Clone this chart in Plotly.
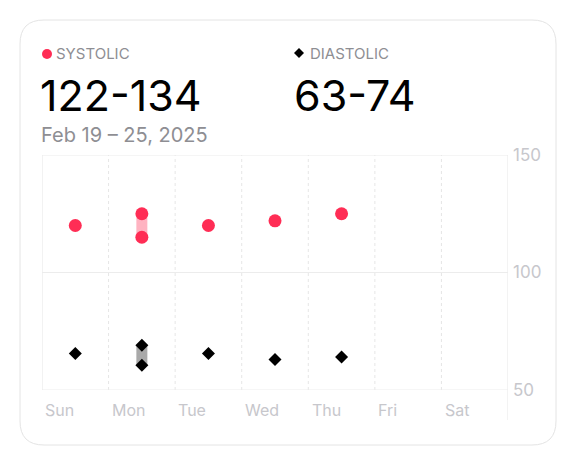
import plotly.graph_objects as go

days = ["Sun", "Mon", "Tue", "Wed", "Thu", "Fri", "Sat"]
sys_x = [0, 1, 1, 2, 3, 4]
sys_v = [120, 125, 115, 120, 122, 125]
dia_x = [0, 1, 1, 2, 3, 4]
dia_v = [65.5, 69, 60.5, 65.5, 63, 64]
sys_range = [115, 125]   # Mon
dia_range = [60.5, 69]   # Mon
yticks = [50, 100, 150]

OFF = 8
W, H = 576 - OFF, 466 - OFF
L, R, T, B = 42, 508, 155, 390
def px(x): return (x - L) / (R - L)
def py(y): return (B - y) / (B - T)

RED = "#ff2d55"
GRAY = "#8e8e93"
fig = go.Figure()

fig.add_trace(go.Scatter(x=[1.5, 1.5], y=sys_range, mode="lines",
                         line=dict(color="#ffb3c1", width=11), hoverinfo="skip"))
fig.add_trace(go.Scatter(x=[1.5, 1.5], y=dia_range, mode="lines",
                         line=dict(color="#a9a9a9", width=11), hoverinfo="skip"))
fig.add_trace(go.Scatter(x=[v + 0.5 for v in sys_x], y=sys_v, mode="markers",
                         marker=dict(color=RED, size=13)))
fig.add_trace(go.Scatter(x=[v + 0.5 for v in dia_x], y=dia_v, mode="markers",
                         marker=dict(color="black", size=10, symbol="diamond")))

shapes = []
x0, x1, y0, y1, r = 20, 556, 20, 445, 24
path = (f"M {px(x0+r)},{py(y0)} L {px(x1-r)},{py(y0)} Q {px(x1)},{py(y0)} {px(x1)},{py(y0+r)} "
        f"L {px(x1)},{py(y1-r)} Q {px(x1)},{py(y1)} {px(x1-r)},{py(y1)} "
        f"L {px(x0+r)},{py(y1)} Q {px(x0)},{py(y1)} {px(x0)},{py(y1-r)} "
        f"L {px(x0)},{py(y0+r)} Q {px(x0)},{py(y0)} {px(x0+r)},{py(y0)} Z")
shapes.append(dict(type="path", path=path, xref="paper", yref="paper",
                   fillcolor="white", line=dict(color="#e4e4e4", width=1), layer="below"))
for i in range(1, 7):
    shapes.append(dict(type="line", x0=i, x1=i, y0=0, y1=1, xref="x", yref="paper",
                       line=dict(color="#e6e6e6", width=1, dash="dot"), layer="below"))
for i in [0, 7]:
    shapes.append(dict(type="line", x0=i, x1=i, y0=0, y1=1, xref="x", yref="paper",
                       line=dict(color="#e6e6e6", width=1), layer="below"))
for v in [yticks[0], yticks[-1]]:
    shapes.append(dict(type="line", x0=0, x1=7, y0=v, y1=v, xref="x", yref="y",
                       line=dict(color="#ececec", width=1), layer="below"))
shapes.append(dict(type="line", x0=7, x1=7, y0=py(420), y1=0, xref="x", yref="paper",
                   line=dict(color="#e6e6e6", width=1), layer="below"))
shapes.append(dict(type="circle", xref="paper", yref="paper", x0=px(42), x1=px(52),
                   y0=py(49), y1=py(59), fillcolor=RED, line=dict(width=0)))
shapes.append(dict(type="path", xref="paper", yref="paper",
                   path=f"M {px(299)},{py(48)} L {px(304)},{py(53)} L {px(299)},{py(58)} L {px(294)},{py(53)} Z",
                   fillcolor="black", line=dict(width=0)))

ann = []
def text(x, y, s, size, color, xanchor="left", yanchor="middle"):
    ann.append(dict(x=px(x), y=py(y), xref="paper", yref="paper", text=s, showarrow=False,
                    xanchor=xanchor, yanchor=yanchor, font=dict(size=size, color=color)))
text(54, 54, "SYSTOLIC", 15, GRAY)
text(38, 95, "122-134", 43, "black")
text(39, 135, "Feb 19 – 25, 2025", 20, GRAY)
text(292, 95, "63-74", 43, "black")
text(308, 54, "DIASTOLIC", 15, GRAY)
for i, d in enumerate(days):
    ann.append(dict(x=i + 0.02, y=py(410), xref="x", yref="paper", text=d, showarrow=False,
                    xanchor="left", yanchor="middle", font=dict(size=16, color="#c7c7cc")))

fig.update_layout(
    width=W, height=H, margin=dict(l=L - OFF, r=W - (R - OFF), t=T - OFF, b=H - (B - OFF)),
    paper_bgcolor="white", plot_bgcolor="rgba(0,0,0,0)", showlegend=False,
    font=dict(family="Inter, Roboto, sans-serif"),
    shapes=shapes, annotations=ann,
    xaxis=dict(range=[0, 7], showgrid=False, zeroline=False, showticklabels=False, fixedrange=True),
    yaxis=dict(range=[50, 150], side="right", tickvals=yticks, showgrid=True,
               gridcolor="#ececec", zeroline=False, tickfont=dict(size=17, color="#c7c7cc"),
               ticks="", ticklabelstandoff=4),
)
fig.write_html("out.html")
